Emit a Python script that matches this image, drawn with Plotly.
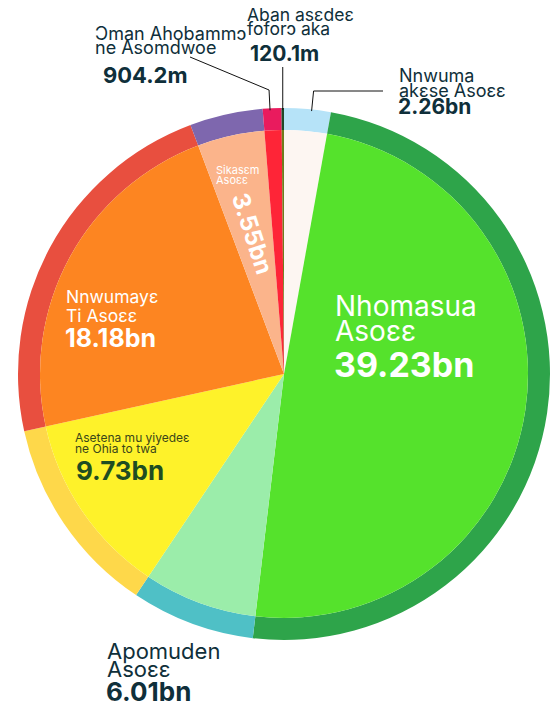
import math
import plotly.graph_objects as go

# ---- data ----
categories = [
    "Nnwuma akɛse Asoɛɛ",
    "Nhomasua Asoɛɛ",
    "Apomuden Asoɛɛ",
    "Asetena mu yiyedeɛ ne Ohia to twa",
    "Nnwumayɛ Ti Asoɛɛ",
    "Sikasɛm Asoɛɛ",
    "Ɔman Ahobammɔ ne Asomdwoe",
    "Aban asɛdeɛ foforɔ aka",
]
values_bn = [2.26, 39.23, 6.01, 9.73, 18.18, 3.55, 0.9042, 0.1201]
value_labels = ["2.26bn", "39.23bn", "6.01bn", "9.73bn", "18.18bn", "3.55bn", "904.2m", "120.1m"]
inner_colors = ["#fdf6f2", "#55e22c", "#9bedaa", "#fef22a", "#fd8521", "#fbb48b", "#fe2537", "#6f7d1c"]
outer_colors = ["#b6e3f8", "#2ea44a", "#4fc0c6", "#fed84a", "#e84f3f", "#7e67ae", "#e91b5e", "#1f4a2a"]

W, H = 557, 706
CX, CY, R_OUT, R_IN = 284, 374, 266, 244


def px(x):
    return x / W


def py(y):
    return 1 - y / H


def dom(r):
    return dict(x=[px(CX - r), px(CX + r)], y=[py(CY + r), py(CY - r)])


fig = go.Figure()
fig.add_trace(go.Pie(
    labels=categories, values=values_bn, sort=False, direction="clockwise",
    rotation=0, hole=R_IN / R_OUT, domain=dom(R_OUT),
    marker=dict(colors=outer_colors, line=dict(width=0)),
    textinfo="none", textposition="none", showlegend=False, hoverinfo="label+value",
))
fig.add_trace(go.Pie(
    labels=categories, values=values_bn, sort=False, direction="clockwise",
    rotation=0, domain=dom(R_IN),
    marker=dict(colors=inner_colors, line=dict(width=0)),
    textinfo="none", textposition="none", showlegend=False, hoverinfo="label+value",
))

FONT = "Inter"
DARK = "#0f2f3a"
annotations = []


def txt(x, y, s, size, color, bold=False, angle=0, xanchor="left"):
    annotations.append(dict(
        x=px(x), y=py(y), xref="paper", yref="paper", text=f"<b>{s}</b>" if bold else s,
        showarrow=False, xanchor=xanchor, yanchor="middle", textangle=angle,
        borderpad=0,
        font=dict(family=FONT, size=size, color=color),
    ))


# outside labels (top)
txt(94, 34, "Ɔman Ahobammɔ", 18, DARK)
txt(94, 47, "ne Asomdwoe", 18, DARK)
txt(102, 75, value_labels[6], 22, DARK, bold=True)

txt(246, 15, "Aban asɛdeɛ", 17.5, DARK)
txt(246, 28, "foforɔ aka", 17.5, DARK)
txt(249, 53, value_labels[7], 21, DARK, bold=True)

txt(398, 75, "Nnwuma", 18, DARK)
txt(398, 90, "akɛse Asoɛɛ", 18, DARK)
txt(397, 107, value_labels[0], 21, DARK, bold=True)

# inside labels
txt(334, 306, "Nhomasua", 28, "#ffffff")
txt(334, 331, "Asoɛɛ", 28, "#ffffff")
txt(333, 364, value_labels[1], 34, "#ffffff", bold=True)

txt(65, 297, "Nnwumayɛ", 17.5, "#ffffff")
txt(65, 315, "Ti Asoɛɛ", 17.5, "#ffffff")
txt(64, 338, value_labels[4], 25, "#ffffff", bold=True)

txt(74, 437, "Asetena mu yiyedeɛ", 12, "#3a4619")
txt(74, 448, "ne Ohia to twa", 12, "#3a4619")
txt(75, 470, value_labels[3], 26, "#1e4d22", bold=True)

txt(215, 170, "Sikasɛm", 11, "#ffffff")
txt(215, 180, "Asoɛɛ", 11, "#ffffff")
txt(252, 234, value_labels[5], 24, "#ffffff", bold=True, angle=72, xanchor="center")

txt(106, 651, "Apomuden", 22, DARK)
txt(106, 669, "Asoɛɛ", 22, DARK)
txt(105, 691, value_labels[2], 26, DARK, bold=True)

# leader lines from slice mid-angles
total = sum(values_bn)
cum = 0
mids = []
for v in values_bn:
    mids.append((cum + v / 2) / total * 2 * math.pi)
    cum += v


def edge(i):
    a = mids[i]
    return CX + R_OUT * math.sin(a), CY - R_OUT * math.cos(a)


shapes = []


def leader(pts):
    path = "M " + " L ".join(f"{px(x)} {py(y)}" for x, y in pts)
    shapes.append(dict(type="path", xref="paper", yref="paper", path=path,
                       line=dict(color="#111111", width=1)))


ex, ey = edge(6)
leader([(190, 57), (ex - 3, 90), (ex - 2, ey + 2)])
ex, ey = edge(7)
leader([(ex, 67), (ex, ey + 2)])
ex, ey = edge(0)
leader([(383, 91), (ex + 6, 91), (ex + 4, ey + 2)])

fig.update_layout(
    width=W, height=H, margin=dict(l=0, r=0, t=0, b=0),
    paper_bgcolor="#ffffff", plot_bgcolor="#ffffff",
    annotations=annotations, shapes=shapes, showlegend=False,
)
fig.write_html(
    "out.html",
    config={"displayModeBar": False},
    post_script="document.body.style.margin='0px';document.body.style.overflow='hidden';",
)
